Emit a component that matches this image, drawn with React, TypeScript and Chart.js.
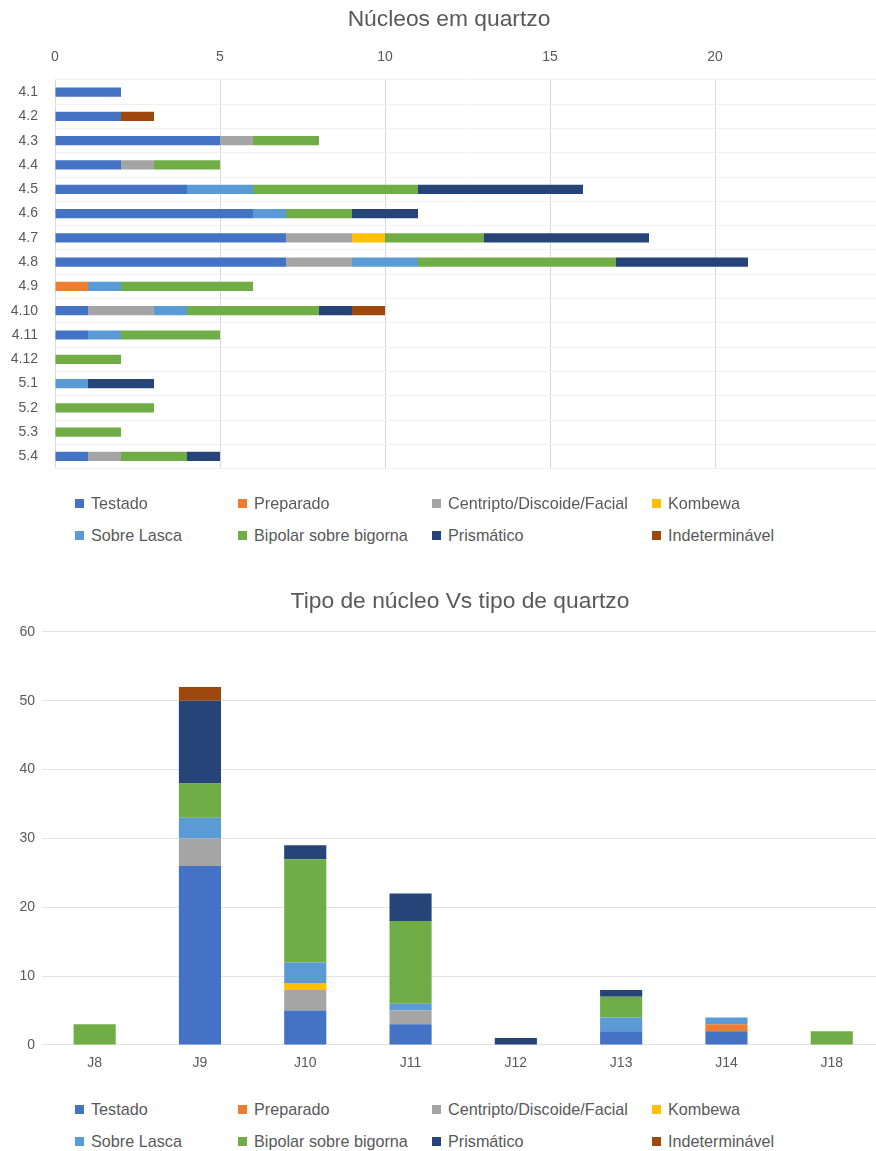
import React, { useEffect, useRef } from "react";
import { Chart, registerables } from "chart.js";

Chart.register(...registerables);

const seriesNames = [
  "Testado",
  "Preparado",
  "Centripto/Discoide/Facial",
  "Kombewa",
  "Sobre Lasca",
  "Bipolar sobre bigorna",
  "Prismático",
  "Indeterminável",
];
const seriesColors = ["#4472C4", "#ED7D31", "#A5A5A5", "#FFC000", "#5B9BD5", "#70AD47", "#264478", "#9E480E"];

// Top chart: Núcleos em quartzo
const topTitle = "Núcleos em quartzo";
const topCategories = ["4.1", "4.2", "4.3", "4.4", "4.5", "4.6", "4.7", "4.8", "4.9", "4.10", "4.11", "4.12", "5.1", "5.2", "5.3", "5.4"];
const topTestado = [2, 2, 5, 2, 4, 6, 7, 7, 0, 1, 1, 0, 0, 0, 0, 1];
const topPreparado = [0, 0, 0, 0, 0, 0, 0, 0, 1, 0, 0, 0, 0, 0, 0, 0];
const topCentripto = [0, 0, 1, 1, 0, 0, 2, 2, 0, 2, 0, 0, 0, 0, 0, 1];
const topKombewa = [0, 0, 0, 0, 0, 0, 1, 0, 0, 0, 0, 0, 0, 0, 0, 0];
const topSobreLasca = [0, 0, 0, 0, 2, 1, 0, 2, 1, 1, 1, 0, 1, 0, 0, 0];
const topBipolar = [0, 0, 2, 2, 5, 2, 3, 6, 4, 4, 3, 2, 0, 3, 2, 2];
const topPrismatico = [0, 0, 0, 0, 5, 2, 5, 4, 0, 1, 0, 0, 2, 0, 0, 1];
const topIndeterminavel = [0, 1, 0, 0, 0, 0, 0, 0, 0, 1, 0, 0, 0, 0, 0, 0];
const topTickValues = [0, 5, 10, 15, 20, 25];
const topTickLabels = ["0", "5", "10", "15", "20", ""];

// Bottom chart: Tipo de núcleo Vs tipo de quartzo
const bottomTitle = "Tipo de núcleo Vs tipo de quartzo";
const bottomCategories = ["J8", "J9", "J10", "J11", "J12", "J13", "J14", "J18"];
const botTestado = [0, 26, 5, 3, 0, 2, 2, 0];
const botPreparado = [0, 0, 0, 0, 0, 0, 1, 0];
const botCentripto = [0, 4, 3, 2, 0, 0, 0, 0];
const botKombewa = [0, 0, 1, 0, 0, 0, 0, 0];
const botSobreLasca = [0, 3, 3, 1, 0, 2, 1, 0];
const botBipolar = [3, 5, 15, 12, 0, 3, 0, 2];
const botPrismatico = [0, 12, 2, 4, 1, 1, 0, 0];
const botIndeterminavel = [0, 2, 0, 0, 0, 0, 0, 0];
const bottomTickValues = [0, 10, 20, 30, 40, 50, 60];

const topSeries = [topTestado, topPreparado, topCentripto, topKombewa, topSobreLasca, topBipolar, topPrismatico, topIndeterminavel];
const botSeries = [botTestado, botPreparado, botCentripto, botKombewa, botSobreLasca, botBipolar, botPrismatico, botIndeterminavel];

const FONT = "'Liberation Sans', Arial, sans-serif";
const TEXT = "#595959";

function Legend({ top }: { top: number }) {
  const colsMarker = [75, 238, 432, 652];
  const rowsY = [top, top + 32];
  return (
    <>
      {seriesNames.map((name, i) => {
        const row = i < 4 ? 0 : 1;
        const col = i % 4;
        return (
          <div
            key={name}
            style={{
              position: "absolute",
              left: colsMarker[col],
              top: rowsY[row] - 10,
              height: 20,
              display: "flex",
              alignItems: "center",
              whiteSpace: "nowrap",
              font: `16.2px ${FONT}`,
              color: TEXT,
            }}
          >
            <span style={{ display: "inline-block", width: 9, height: 9, background: seriesColors[i], marginRight: 7 }} />
            {name}
          </div>
        );
      })}
    </>
  );
}

// let tick labels of a narrow vertical axis spill into the layout padding
const noLabelClip = (scale: any, width: number) => {
  scale.width = width;
  scale._computeLabelArea = () => undefined;
};

export default function App() {
  const topRef = useRef<HTMLCanvasElement>(null);
  const botRef = useRef<HTMLCanvasElement>(null);

  useEffect(() => {
    const topChart = new Chart(topRef.current!, {
      type: "bar",
      data: {
        labels: topCategories,
        datasets: seriesNames.map((n, i) => ({
          label: n,
          data: topSeries[i],
          backgroundColor: seriesColors[i],
          borderWidth: 0,
          barPercentage: 0.38,
          categoryPercentage: 1,
        })),
      },
      options: {
        animation: false,
        responsive: false,
        maintainAspectRatio: false,
        indexAxis: "y",
        layout: { autoPadding: false, padding: { left: 18, right: 18, top: 0, bottom: 0 } },
        plugins: {
          legend: { display: false },
          tooltip: { enabled: false },
          title: {
            display: true,
            text: topTitle,
            color: TEXT,
            font: { family: FONT, size: 22.8, weight: "normal" },
            padding: { top: 6.3, bottom: 0 },
          },
        },
        scales: {
          x: {
            position: "top",
            stacked: true,
            min: 0,
            max: 25,
            afterBuildTicks: (scale: any) => {
              scale.ticks = topTickValues.map((v) => ({ value: v }));
            },
            afterFit: (scale: any) => {
              scale.height = 46.3;
            },
            ticks: {
              color: TEXT,
              font: { family: FONT, size: 14 },
              padding: 14.6,
              callback: (_v: any, i: number) => topTickLabels[i],
            },
            grid: { color: "#D9D9D9", drawTicks: false },
            border: { display: false },
          },
          y: {
            stacked: true,
            afterFit: (scale: any) => noLabelClip(scale, 37),
            ticks: { color: TEXT, font: { family: FONT, size: 14 }, padding: 17 },
            grid: { color: "#F0F0F0", drawTicks: false, offset: true },
            border: { display: false },
          },
        },
      } as any,
    });

    const botChart = new Chart(botRef.current!, {
      type: "bar",
      data: {
        labels: bottomCategories,
        datasets: seriesNames.map((n, i) => ({
          label: n,
          data: botSeries[i],
          backgroundColor: seriesColors[i],
          borderWidth: 0,
          barPercentage: 0.4,
          categoryPercentage: 1,
        })),
      },
      options: {
        animation: false,
        responsive: false,
        maintainAspectRatio: false,
        layout: { autoPadding: false, padding: { left: 35.6, right: 35.6, top: 0, bottom: 0 } },
        plugins: {
          legend: { display: false },
          tooltip: { enabled: false },
          title: {
            display: true,
            text: bottomTitle,
            color: TEXT,
            font: { family: FONT, size: 22.8, weight: "normal" },
            padding: { top: 8.3, bottom: 16.3 },
          },
        },
        scales: {
          x: {
            stacked: true,
            afterFit: (scale: any) => {
              scale.height = 40;
            },
            ticks: { color: TEXT, font: { family: FONT, size: 14 }, padding: 9.6 },
            grid: { display: false, drawTicks: false },
            border: { display: false },
          },
          y: {
            stacked: true,
            min: 0,
            max: 60,
            afterBuildTicks: (scale: any) => {
              scale.ticks = bottomTickValues.map((v) => ({ value: v }));
            },
            afterFit: (scale: any) => noLabelClip(scale, 6.4),
            ticks: { color: TEXT, font: { family: FONT, size: 14 }, padding: 7 },
            grid: { color: "#E3E3E3", drawTicks: false },
            border: { display: false },
          },
        },
      } as any,
    });

    return () => {
      topChart.destroy();
      botChart.destroy();
    };
  }, []);

  return (
    <div
      style={{
        position: "fixed",
        left: 0,
        top: 0,
        width: 876,
        height: 1151,
        overflow: "hidden",
        background: "#ffffff",
      }}
    >
      <canvas ref={topRef} width={898} height={494} style={{ position: "absolute", left: 0, top: 0, width: 898, height: 494 }} />
      <Legend top={503} />
      <canvas ref={botRef} width={920} height={505} style={{ position: "absolute", left: 0, top: 580, width: 920, height: 505 }} />
      <Legend top={1109} />
    </div>
  );
}
